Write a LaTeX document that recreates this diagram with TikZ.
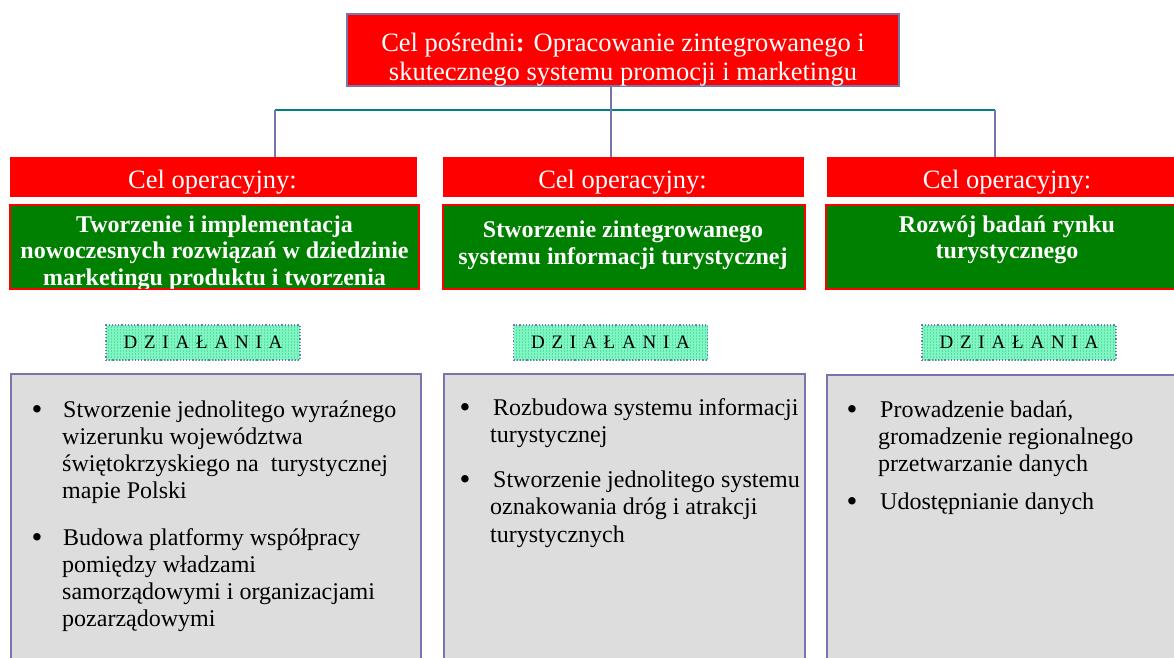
\documentclass[tikz,border=0pt]{standalone}
\usepackage{fontspec}
\setmainfont{Liberation Serif}
\usetikzlibrary{patterns}
\definecolor{bred}{RGB}{255,0,0}
\definecolor{bgreen}{RGB}{0,128,0}
\definecolor{bgray}{RGB}{221,221,221}
\definecolor{bord}{RGB}{118,118,170}
\definecolor{tealc}{RGB}{0,128,128}
\definecolor{mint}{RGB}{125,248,195}
\definecolor{gridc}{RGB}{95,220,165}
\newcommand\dzword{D\kern6.8pt Z\kern6.8pt I\kern6.8pt A\kern6.8pt Ł\kern6.8pt A\kern6.8pt N\kern6.8pt I\kern6.8pt A}
\tikzset{
  topbox/.style={draw=bord, line width=1.5pt, fill=bred, minimum width=552pt, minimum height=72pt, inner sep=0pt},
  opbox/.style={fill=bred, draw=none, inner sep=0pt, minimum height=40pt},
  goalbox/.style={fill=bgreen, draw=bred, line width=2pt, inner sep=0pt, minimum height=84pt},
  dzbox/.style={preaction={fill=mint}, pattern=grid, pattern color=gridc, draw=bord, dotted, line width=1.2pt, inner sep=0pt, minimum width=194pt, minimum height=35pt, font=\fontsize{19}{22}\selectfont, text=black},
  actbox/.style={fill=bgray, draw=bord, line width=1.6pt, inner sep=0pt, minimum height=300pt, anchor=north west},
  vconn/.style={draw=bord, line width=2pt},
  hconn/.style={draw=tealc, line width=1.5pt},
  toptxt/.style={inner sep=0pt, anchor=base, text=white, font=\fontsize{26.5}{30}\selectfont},
  gtxt/.style={inner sep=0pt, anchor=base, text=white, font=\bfseries\fontsize{24}{27}\selectfont},
  btxt/.style={inner sep=0pt, anchor=base west, text=black, font=\fontsize{24}{27}\selectfont},
  bul/.style={inner sep=0pt, anchor=base, text=black, font=\fontsize{31}{27}\selectfont},
}
\begin{document}
\begin{tikzpicture}[x=1pt,y=-1pt]
\useasboundingbox[fill=white] (0,0) rectangle (1174,657);

% connector junctions
\coordinate (hl) at (275,110);
\coordinate (hm) at (611,110);
\coordinate (hr) at (995,110);

% top box
\node[topbox] (top) at (623,50) {};
\begin{scope}
\clip (347.75,14.75) rectangle (898.25,85.25);
\node[toptxt] (top1) at (623,51) {Cel pośredni\textbf{:} Opracowanie zintegrowanego i};
\node[toptxt] (top2) at (623,80) {skutecznego systemu promocji i marketingu};
\end{scope}

% operational labels
\node[opbox, minimum width=407pt] (op1) at (213.5,177) {};
\node[opbox, minimum width=361pt] (op2) at (623.5,177) {};
\node[opbox, minimum width=362pt] (op3) at (1008,177) {};
\node[toptxt] (op1t) at (212.5,188) {Cel operacyjny:};
\node[toptxt] (op2t) at (622.5,188) {Cel operacyjny:};
\node[toptxt] (op3t) at (1007,188) {Cel operacyjny:};

\draw[hconn] (hl) -- (hr);
\draw[vconn] (top.south -| hm) -- (op2.north -| hm);
\draw[vconn] (hl) -- (op1.north -| hl);
\draw[vconn] (hr) -- (op3.north -| hr);

% goal boxes
\node[goalbox, minimum width=409pt] (g1) at (214.5,247) {};
\node[goalbox, minimum width=362pt] (g2) at (624,247) {};
\node[goalbox, minimum width=360pt] (g3) at (1006,247) {};
\begin{scope}
\clip (11,206) rectangle (418,288);
\node[gtxt] (g1a) at (214.5,232) {Tworzenie i implementacja};
\node[gtxt] (g1b) at (214.5,258) {nowoczesnych rozwiązań w dziedzinie};
\node[gtxt] (g1c) at (214.5,285) {marketingu produktu i tworzenia};
\end{scope}
\node[gtxt] (g2a) at (623,237) {Stworzenie zintegrowanego};
\node[gtxt] (g2b) at (623,264) {systemu informacji turystycznej};
\node[gtxt] (g3a) at (1007,232) {Rozwój badań rynku};
\node[gtxt] (g3b) at (1007,258) {turystycznego};

% DZIALANIA
\node[dzbox] (d1) at (203,342.5) {\dzword};
\node[dzbox] (d2) at (610.5,342.5) {\dzword};
\node[dzbox] (d3) at (1019,342.5) {\dzword};

% action boxes
\node[actbox, minimum width=410pt] (a1) at (10,373) {};
\node[actbox, minimum width=361pt] (a2) at (443,373) {};
\node[actbox, minimum width=370pt] (a3) at (826,374) {};

% left actions
\node[bul] (b11) at (37,419) {•};
\node[btxt] (t11a) at (63,417) {Stworzenie jednolitego wyraźnego};
\node[btxt] (t11b) at (62,444) {wizerunku województwa};
\node[btxt] (t11c) at (62,471) {świętokrzyskiego na\ \ turystycznej};
\node[btxt] (t11d) at (62,498) {mapie Polski};
\node[bul] (b12) at (37,547) {•};
\node[btxt] (t12a) at (63,545) {Budowa platformy współpracy};
\node[btxt] (t12b) at (62,572) {pomiędzy władzami};
\node[btxt] (t12c) at (62,599) {samorządowymi i organizacjami};
\node[btxt] (t12d) at (62,626) {pozarządowymi};

% middle actions
\node[bul] (b21) at (465,417) {•};
\node[btxt] (t21a) at (493,415) {Rozbudowa systemu informacji};
\node[btxt] (t21b) at (490,442) {turystycznej};
\node[bul] (b22) at (465,489) {•};
\node[btxt] (t22a) at (493,487) {Stworzenie jednolitego systemu};
\node[btxt] (t22b) at (490,514) {oznakowania dróg i atrakcji};
\node[btxt] (t22c) at (490,542) {turystycznych};

% right actions
\node[bul] (b31) at (852,419) {•};
\node[btxt] (t31a) at (880,417) {Prowadzenie badań,};
\node[btxt] (t31b) at (878,444) {gromadzenie regionalnego};
\node[btxt] (t31c) at (878,471) {przetwarzanie danych};
\node[bul] (b32) at (852,511) {•};
\node[btxt] (t32a) at (880,509) {Udostępnianie danych};
\end{tikzpicture}
\end{document}
